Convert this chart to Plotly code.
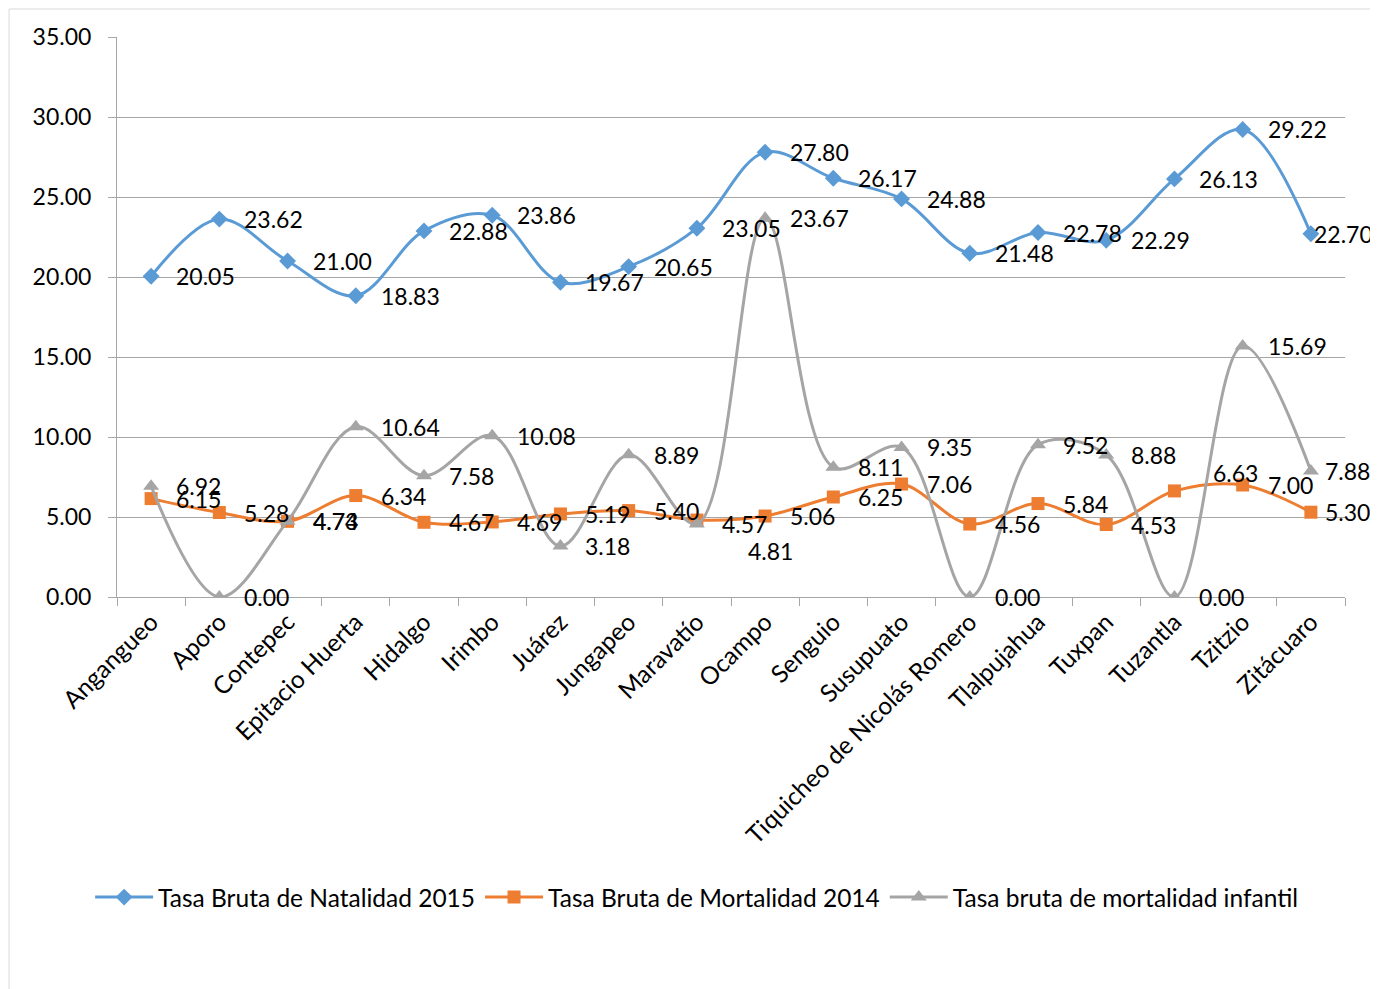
import plotly.graph_objects as go

# Municipios (categories)
municipios = ['Angangueo', 'Aporo', 'Contepec', 'Epitacio Huerta', 'Hidalgo', 'Irimbo',
              'Juárez', 'Jungapeo', 'Maravatío', 'Ocampo', 'Senguio', 'Susupuato',
              'Tiquicheo de Nicolás Romero', 'Tlalpujahua', 'Tuxpan', 'Tuzantla',
              'Tzitzio', 'Zitácuaro']

natalidad_2015 = [20.05, 23.62, 21.00, 18.83, 22.88, 23.86, 19.67, 20.65, 23.05,
                  27.80, 26.17, 24.88, 21.48, 22.78, 22.29, 26.13, 29.22, 22.70]
mortalidad_2014 = [6.15, 5.28, 4.73, 6.34, 4.67, 4.69, 5.19, 5.40, 4.81,
                   5.06, 6.25, 7.06, 4.56, 5.84, 4.53, 6.63, 7.00, 5.30]
mortalidad_infantil = [6.92, 0.00, 4.74, 10.64, 7.58, 10.08, 3.18, 8.89, 4.57,
                       23.67, 8.11, 9.35, 0.00, 9.52, 8.88, 0.00, 15.69, 7.88]

y_ticks = [0, 5, 10, 15, 20, 25, 30, 35]

FONT = 'Lato'
series = [
    ('Tasa Bruta de Natalidad 2015', natalidad_2015, '#5B9BD5', 'diamond', 13),
    ('Tasa Bruta de Mortalidad 2014', mortalidad_2014, '#ED7D31', 'square', 13),
    ('Tasa bruta de mortalidad infantil', mortalidad_infantil, '#A5A5A5', 'triangle-up', 14),
]

# label offsets that differ from the default (series index, point index) -> (dx, dy)
label_moves = {
    (1, 8): (49, -31),
    (1, 15): (37, 18),
    (0, 17): (1, 0),
    (1, 17): (12, 0),
    (2, 17): (12, 0),
}

fig = go.Figure()
annotations = []
for s, (name, vals, color, symbol, size) in enumerate(series):
    fig.add_trace(go.Scatter(
        x=municipios, y=vals, name=name, mode='lines+markers',
        line=dict(color=color, width=3, shape='spline', smoothing=1),
        marker=dict(symbol=symbol, size=size, color=color),
    ))
    for i, v in enumerate(vals):
        dx, dy = label_moves.get((s, i), (23, 0))
        annotations.append(dict(
            x=municipios[i], y=v, text=f'{v:.2f}', showarrow=False,
            xanchor='left', yanchor='middle', xshift=dx, yshift=dy,
            font=dict(family=FONT, size=23, color='#000000'),
        ))

fig.update_layout(
    width=1378, height=989,
    margin=dict(l=109, r=41, t=29, b=400),
    plot_bgcolor='#ffffff', paper_bgcolor='#ffffff',
    font=dict(family=FONT, size=23, color='#000000'),
    showlegend=True,
    legend=dict(
        orientation='h', x=0.472, xanchor='center', y=-0.536, yanchor='middle',
        font=dict(family=FONT, size=24.5, color='#000000'),
        itemwidth=58, tracegroupgap=0,
    ),
    xaxis=dict(
        type='category', range=[-0.5, 17.5], tickangle=-45,
        showgrid=False, showline=True, linecolor='#A6A6A6', linewidth=1,
        ticks='outside', tickson='boundaries', ticklen=8, tickcolor='#A6A6A6',
        tickfont=dict(family=FONT, size=24.5, color='#000000'),
    ),
    yaxis=dict(
        range=[0, 35], tickvals=y_ticks, tickformat='.2f',
        showgrid=True, gridcolor='#A6A6A6', gridwidth=1,
        showline=True, linecolor='#A6A6A6', linewidth=1,
        ticks='outside', ticklen=8, tickcolor='#A6A6A6',
        ticklabelstandoff=12, zeroline=False,
        tickfont=dict(family=FONT, size=23, color='#000000'),
    ),
    annotations=annotations,
    shapes=[dict(
        type='rect', xref='paper', yref='paper',
        x0=-0.0879, x1=1.026, y0=-0.72, y1=1.05,
        line=dict(color='#D9D9D9', width=1), fillcolor='rgba(0,0,0,0)', layer='below',
    )],
)

fig.write_html('out.html')
